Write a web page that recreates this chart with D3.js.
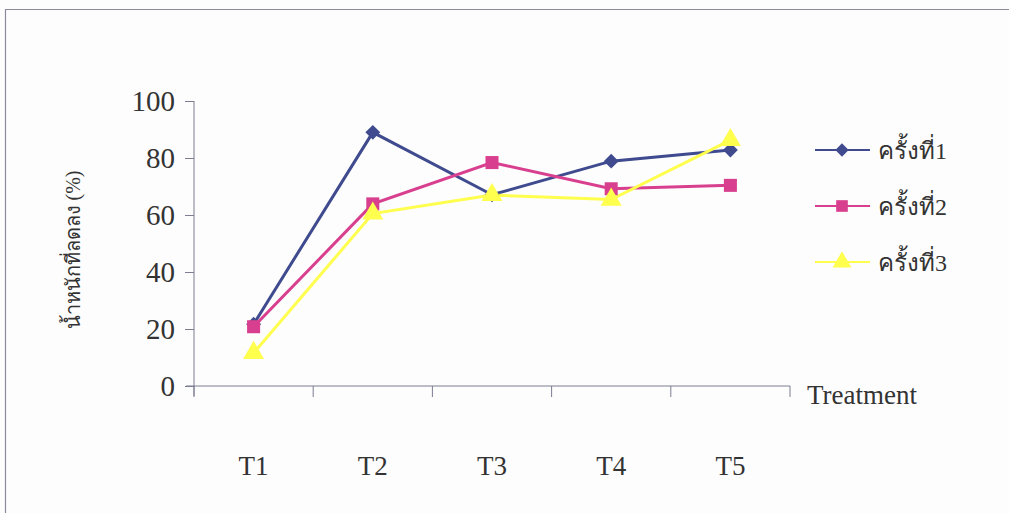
<!DOCTYPE html>
<html>
<head>
<meta charset="utf-8">
<script src="https://cdn.jsdelivr.net/npm/d3@7"></script>
<style>
  body { margin: 0; background: #fdfdfd; }
  svg { display: block; }
  text { font-family: "Liberation Serif", "Times New Roman", serif; fill: #333; }
</style>
</head>
<body>
<svg width="1009" height="513"></svg>
<script>
// data
const categories = ["T1", "T2", "T3", "T4", "T5"];
const seriesNames = ["ครั้งที่1", "ครั้งที่2", "ครั้งที่3"];
const round1 = [21.7, 89.0, 67.1, 78.9, 82.8];
const round2 = [20.8, 63.9, 78.4, 69.2, 70.4];
const round3 = [11.6, 60.5, 67.0, 65.4, 86.3];
const yTicks = [0, 20, 40, 60, 80, 100];

const colors = ["#3f4b8e", "#d8408f", "#ffff4d"];
const shapes = [d3.symbolSquare, d3.symbolSquare, d3.symbolTriangle];
const sizes = [110, 170, 190];
const rotations = [45, 0, 0];

const series = [round1, round2, round3].map((v, i) => ({ name: seriesNames[i], values: v, i }));

const svg = d3.select("svg");

// outer frame
svg.append("path")
  .attr("d", "M5.5,513 V9.5 H1009")
  .attr("fill", "none")
  .attr("stroke", "#8a8a9e")
  .attr("stroke-width", 1.2);

const plotLeft = 194, plotRight = 790, plotTop = 101, plotBottom = 386;

const x = d3.scaleBand().domain(categories).range([plotLeft, plotRight]);
const y = d3.scaleLinear().domain([0, 100]).range([plotBottom, plotTop]);

const axisColor = "#7c7c92";

// y axis
const yAxis = svg.append("g")
  .attr("transform", `translate(${plotLeft},0)`)
  .call(d3.axisLeft(y).tickValues(yTicks).tickSize(9).tickPadding(10));
yAxis.select(".domain").attr("d", `M0,${plotTop}V${plotBottom + 10}`).attr("stroke", axisColor);
yAxis.selectAll(".tick line").attr("stroke", axisColor);
yAxis.selectAll("text")
  .style("font-size", "29px")
  .style("font-family", "'Liberation Serif', serif")
  .attr("fill", "#333");

// x axis: ticks at band boundaries, labels far below
const xAxis = svg.append("g").attr("transform", `translate(0,${plotBottom})`);
xAxis.append("line")
  .attr("x1", plotLeft - 8).attr("x2", plotRight)
  .attr("stroke", axisColor);
const bounds = categories.map(c => x(c)).concat([plotRight]);
xAxis.selectAll("line.tk")
  .data(bounds)
  .enter()
  .append("line")
  .attr("class", "tk")
  .attr("x1", d => d).attr("x2", d => d)
  .attr("y1", 0).attr("y2", 11)
  .attr("stroke", axisColor);
xAxis.selectAll("text.cat")
  .data(categories)
  .enter()
  .append("text")
  .attr("class", "cat")
  .attr("x", d => x(d) + x.bandwidth() / 2)
  .attr("y", 89)
  .attr("text-anchor", "middle")
  .style("font-size", "27px")
  .text(d => d);

svg.append("text")
  .attr("x", 807)
  .attr("y", 404)
  .style("font-size", "27px")
  .text("Treatment");

// y label
svg.append("text")
  .attr("transform", "translate(80,250) rotate(-90)")
  .attr("text-anchor", "middle")
  .style("font-size", "20px")
  .text("น้ำหนักที่ลดลง (%)");

// lines
const line = d3.line()
  .x((d, j) => x(categories[j]) + x.bandwidth() / 2)
  .y(d => y(d));

series.forEach(s => {
  svg.append("path")
    .datum(s.values)
    .attr("d", line)
    .attr("fill", "none")
    .attr("stroke", colors[s.i])
    .attr("stroke-width", 3);
});

series.forEach(s => {
  svg.append("g")
    .selectAll("path")
    .data(s.values)
    .enter()
    .append("path")
    .attr("transform", (d, j) => `translate(${x(categories[j]) + x.bandwidth() / 2},${y(d)}) rotate(${rotations[s.i]})`)
    .attr("d", d3.symbol().type(shapes[s.i]).size(sizes[s.i]))
    .attr("fill", colors[s.i]);
});

// legend
const legend = svg.append("g");
const rowY = [150, 206, 262];
series.forEach(s => {
  const g = legend.append("g").attr("transform", `translate(815,${rowY[s.i]})`);
  g.append("line").attr("x1", 0).attr("x2", 55).attr("stroke", colors[s.i]).attr("stroke-width", 2);
  g.append("path")
    .attr("transform", `translate(27,0) rotate(${rotations[s.i]})`)
    .attr("d", d3.symbol().type(shapes[s.i]).size(sizes[s.i] * 0.8))
    .attr("fill", colors[s.i]);
  g.append("text")
    .attr("x", 63)
    .attr("y", 9)
    .style("font-size", "24px")
    .text(s.name);
});
</script>
</body>
</html>
